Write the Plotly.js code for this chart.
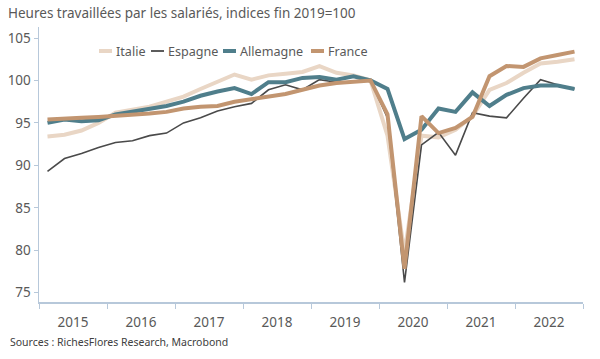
<!DOCTYPE html>
<html>
<head>
<meta charset="utf-8">
<script src="https://cdn.plot.ly/plotly-3.0.1.min.js"></script>
<style>html,body{margin:0;padding:0;background:#fff;}#chart{width:600px;height:359px;}</style>
</head>
<body>
<div id="chart"></div>
<script>
// ---- Data ----
const years = [2015, 2016, 2017, 2018, 2019, 2020, 2021, 2022];
const quarters = [1, 2, 3, 4];
const seriesNames = ["Italie", "Espagne", "Allemagne", "France"];
const italie = [93.4, 93.6, 94.1, 95.0, 96.2, 96.6, 96.9, 97.5, 98.1, 99.0, 99.8, 100.7,
  100.1, 100.6, 100.8, 101.0, 101.7, 100.9, 100.6, 100.0, 93.5, 79.6, 93.5, 93.3,
  94.2, 95.8, 98.9, 99.7, 100.9, 102.0, 102.2, 102.5];
const espagne = [89.3, 90.8, 91.4, 92.1, 92.7, 92.9, 93.5, 93.8, 95.0, 95.6, 96.4, 96.9,
  97.3, 98.9, 99.5, 98.9, 100.1, 99.8, 99.8, 100.0, 95.6, 76.2, 92.4, 93.9,
  91.2, 96.2, 95.8, 95.6, 97.9, 100.1, 99.5, 99.0];
const allemagne = [95.0, 95.4, 95.2, 95.3, 96.0, 96.3, 96.7, 97.0, 97.5, 98.2, 98.7, 99.1,
  98.4, 99.8, 99.8, 100.3, 100.4, 100.1, 100.5, 100.0, 99.0, 93.1, 94.2, 96.7,
  96.3, 98.6, 97.0, 98.3, 99.1, 99.4, 99.4, 99.0];
const france = [95.4, 95.45, 95.6, 95.7, 95.8, 96.0, 96.1, 96.3, 96.7, 96.9, 97.0, 97.5,
  97.8, 98.1, 98.4, 98.9, 99.4, 99.7, 99.9, 100.0, 96.0, 77.8, 95.8, 93.8,
  94.4, 95.7, 100.5, 101.7, 101.6, 102.6, 103.0, 103.4];
const yTicks = [75, 80, 85, 90, 95, 100, 105];
const titleText = "Heures travaillées par les salariés, indices fin 2019=100";
const sourceText = "Sources : RichesFlores Research, Macrobond";

// quarter positions: middle of each quarter on a continuous year scale
const xq = [];
years.forEach(y => quarters.forEach(q => xq.push(y + (q - 0.5) / 4)));
const boundaries = years.concat([years[years.length - 1] + 1]);
const mids = years.map(y => y + 0.5);

const colors = ["#e9d6c5", "#4a4a4a", "#4f7e8b", "#c29570"];
const widths = [4, 1.6, 4, 4];
const vals = [italie, espagne, allemagne, france];

const traces = seriesNames.map((n, i) => ({
  type: "scatter", mode: "lines", name: n, x: xq, y: vals[i],
  line: {color: colors[i], width: widths[i]}, xaxis: "x", yaxis: "y", showlegend: false
}));
// invisible helper trace for the year-label axis
traces.push({type: "scatter", mode: "markers", x: mids, y: mids.map(() => 90),
  xaxis: "x2", yaxis: "y", showlegend: false, hoverinfo: "skip",
  marker: {opacity: 0}});

const font = "Noto Sans, Open Sans, sans-serif";
const grey = "#595959";
const axisCol = "#b7c8da";
const xr = [boundaries[0], boundaries[boundaries.length - 1]];

// compact legend (short line samples, like the original)
const plotL = 39, plotW = 544, plotB = 302, plotH = 275;
const legSampleStart = [99, 151, 223, 311];
const legSampleLen = 13, legY = 51;
const px = v => (v - plotL) / plotW;
const py = v => (plotB - v) / plotH;
const shapes = [], annotations = [];
seriesNames.forEach((n, i) => {
  shapes.push({type: "line", xref: "paper", yref: "paper",
    x0: px(legSampleStart[i]), x1: px(legSampleStart[i] + legSampleLen),
    y0: py(legY), y1: py(legY), line: {color: colors[i], width: widths[i] === 4 ? 4 : 1.8}});
  annotations.push({text: n, xref: "paper", yref: "paper",
    x: px(legSampleStart[i] + legSampleLen + 2), xanchor: "left",
    y: py(legY), yanchor: "middle", showarrow: false,
    font: {family: font, size: 12.6, color: grey}});
});
annotations.push({text: sourceText, xref: "paper", yref: "paper",
  x: px(8), xanchor: "left", y: py(342), yanchor: "middle", showarrow: false,
  font: {family: font, size: 10.5, color: "#404040"}});

const layout = {
  width: 600, height: 359,
  margin: {l: 39, r: 17, t: 27, b: 57},
  paper_bgcolor: "#fff", plot_bgcolor: "#fff",
  font: {family: font, color: grey, size: 13},
  title: {text: titleText, x: 8 / 600, xanchor: "left", xref: "container",
    y: 1 - 13 / 359, yanchor: "middle", yref: "container",
    font: {family: font, size: 13.5, color: grey}},
  showlegend: false,
  xaxis: {range: xr, tickmode: "array", tickvals: boundaries, ticktext: boundaries.map(() => ""),
    ticks: "outside", ticklen: 5, tickcolor: axisCol, tickwidth: 1,
    showline: true, linecolor: axisCol, linewidth: 1.5, showgrid: false, zeroline: false},
  xaxis2: {range: xr, overlaying: "x", anchor: "y", side: "bottom", tickmode: "array",
    tickvals: mids, ticktext: years.map(String), ticks: "", showline: false,
    ticklabelstandoff: 10,
    showgrid: false, zeroline: false, tickfont: {family: font, size: 13.5, color: grey}},
  yaxis: {range: [73.9, 106.3], tickmode: "array", tickvals: yTicks,
    ticks: "outside", ticklen: 4, tickcolor: axisCol, tickwidth: 1,
    showline: true, linecolor: axisCol, linewidth: 1.5, showgrid: false, zeroline: false,
    tickfont: {family: font, size: 13.5, color: grey}},
  shapes: shapes,
  annotations: annotations
};

Plotly.newPlot("chart", traces, layout, {displayModeBar: false, staticPlot: true});
</script>
</body>
</html>
